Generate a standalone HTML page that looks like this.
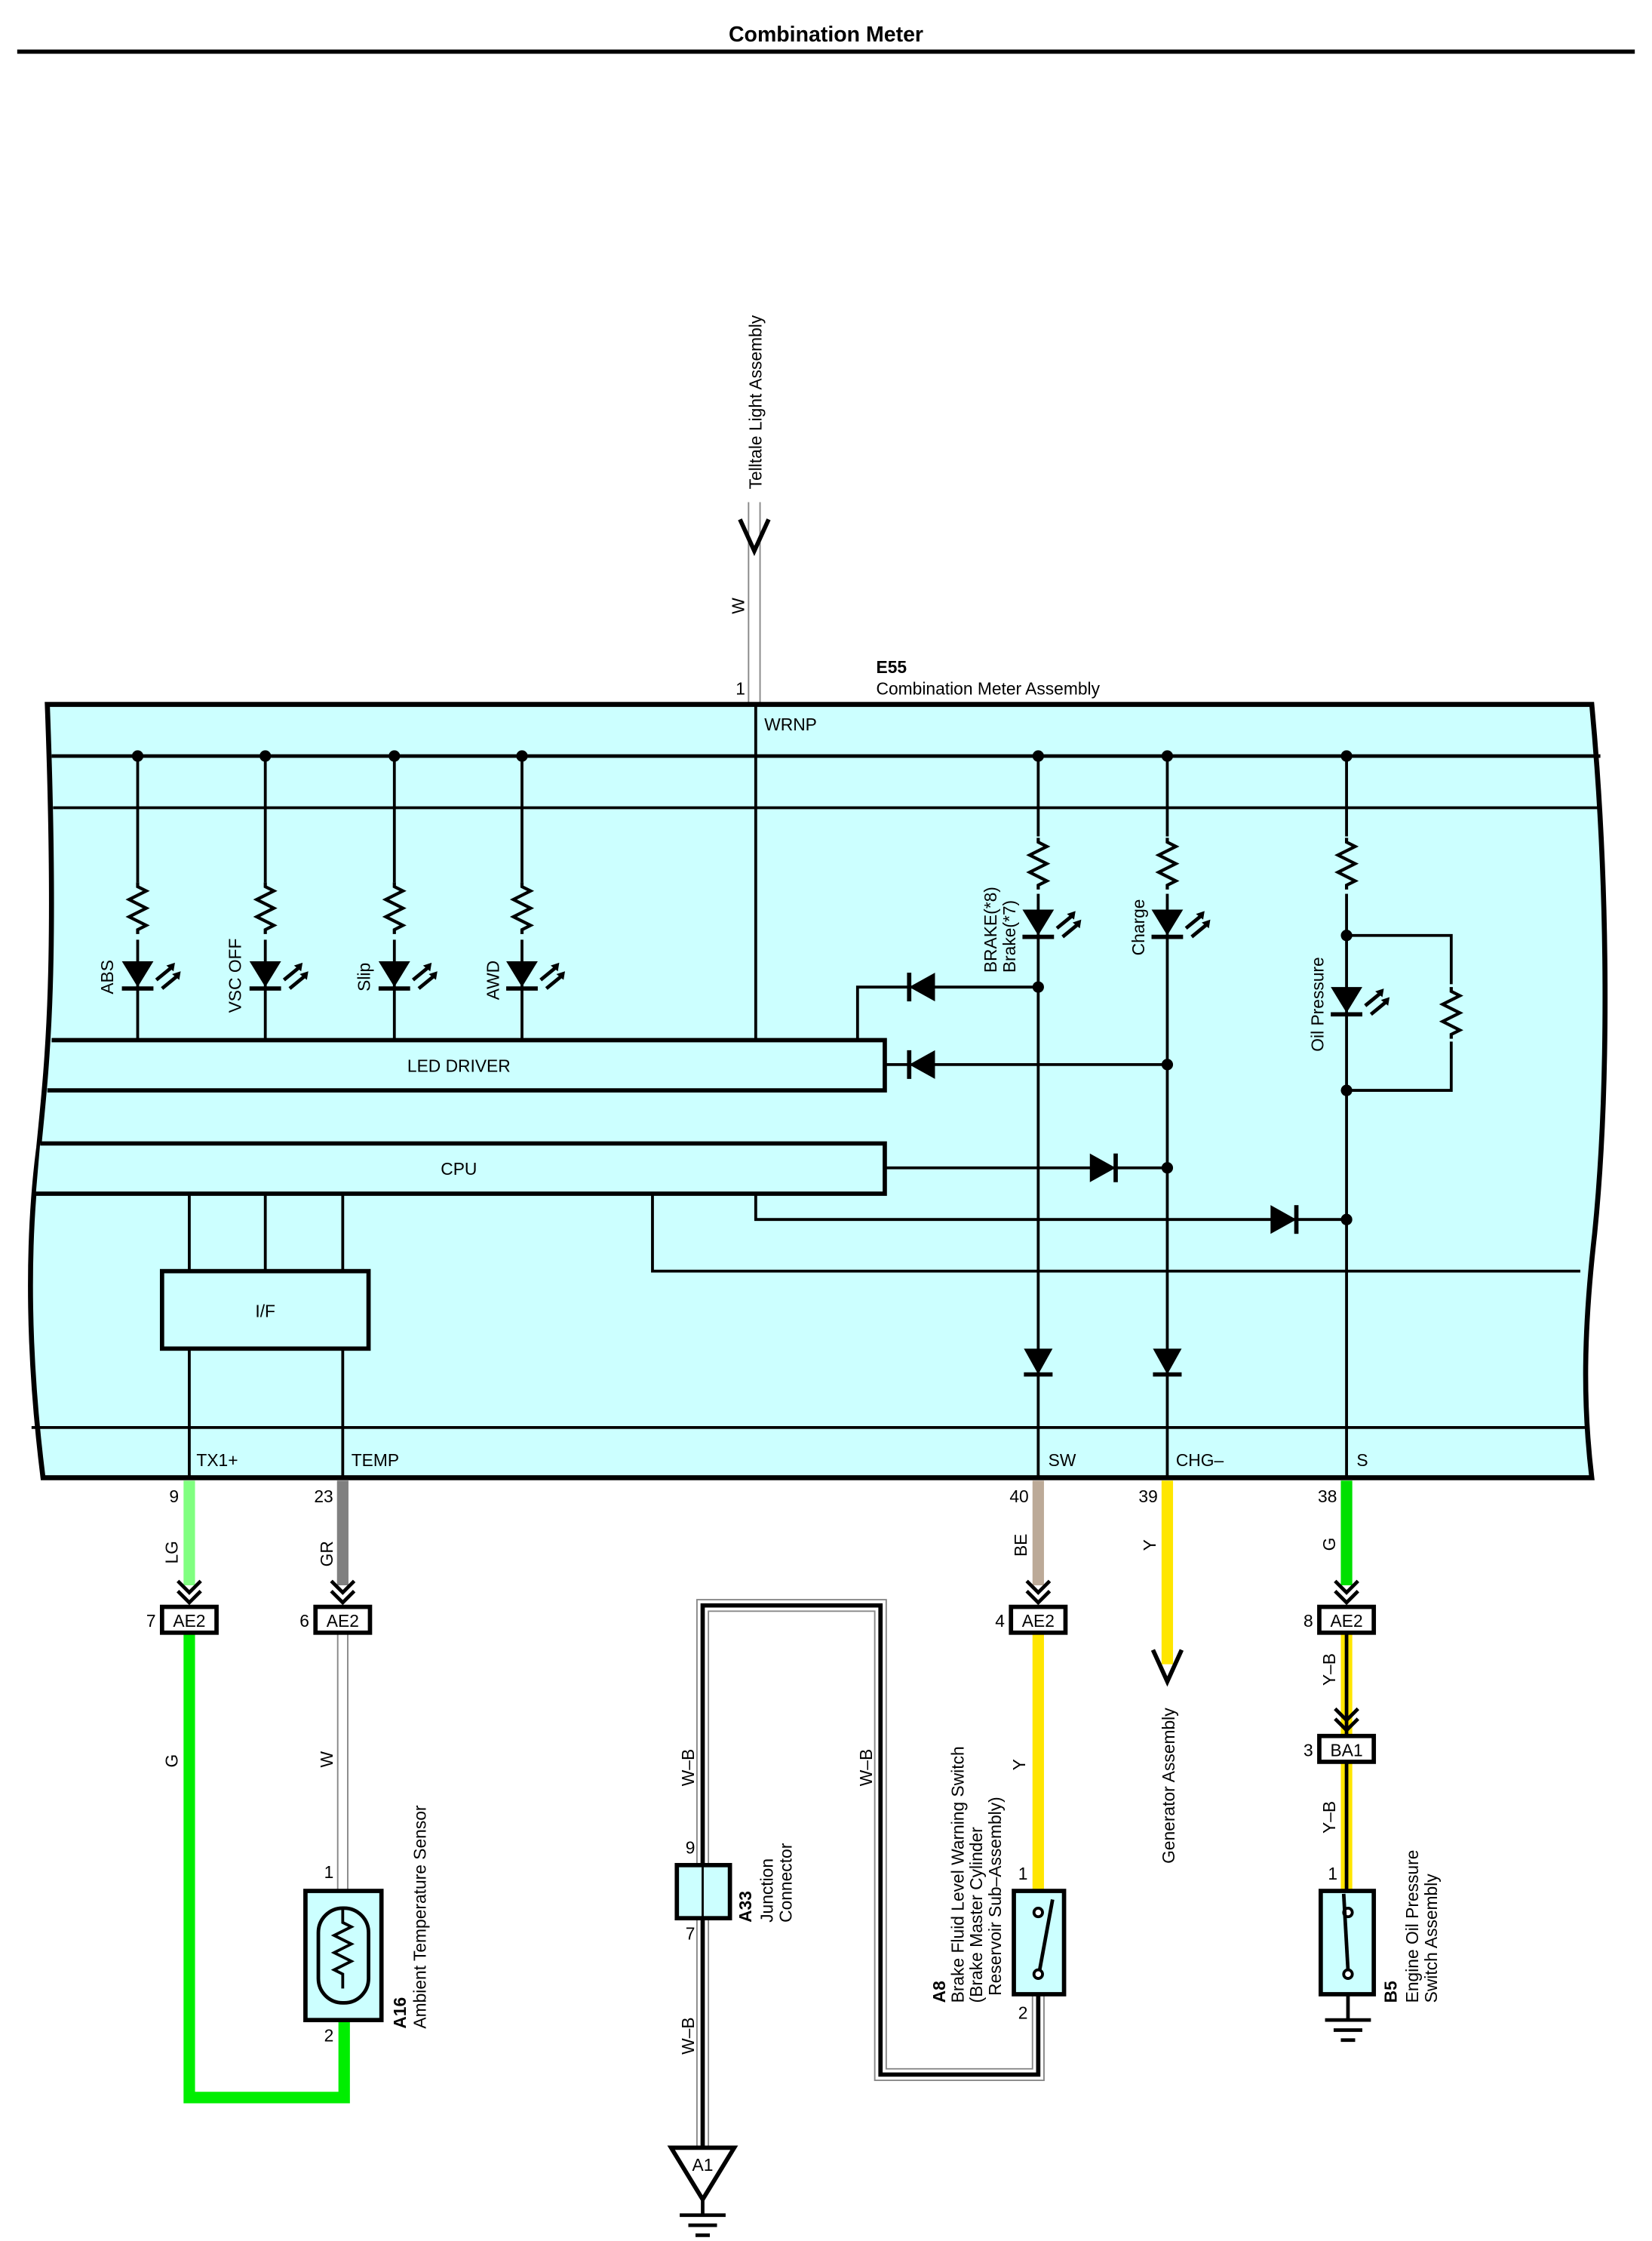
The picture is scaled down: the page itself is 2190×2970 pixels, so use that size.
<!DOCTYPE html>
<html><head><meta charset="utf-8"><style>
html,body{margin:0;padding:0;background:#fff}
svg{display:block}
text{font-family:"Liberation Sans",sans-serif;font-size:12px;fill:#000}
</style></head><body>
<svg width="2190" height="2970" viewBox="0 0 1152 1562" preserveAspectRatio="none" xmlns="http://www.w3.org/2000/svg">
<defs>
<g id="led"><polygon points="-11,0 11,0 0,18" fill="#000"/><line x1="-11" y1="19" x2="11" y2="19" stroke="#000" stroke-width="3"/>
<path d="M13,13 L24,4 M17,19 L28,10" stroke="#000" stroke-width="2.5" fill="none"/>
<polygon points="26,1 20,3 25,7" fill="#000"/><polygon points="30,7 24,9 29,13" fill="#000"/></g>
<path id="res" d="M0,0 l0,3 l6,3 l-12,6 l12,6 l-12,6 l12,6 l-6,3 l0,3" fill="none" stroke="#000" stroke-width="2.2"/>
<g id="dL"><polygon points="0,0 18,-10 18,10" fill="#000"/><line x1="0" y1="-10" x2="0" y2="10" stroke="#000" stroke-width="3"/></g>
<g id="dR"><polygon points="0,0 -18,-10 -18,10" fill="#000"/><line x1="0" y1="-10" x2="0" y2="10" stroke="#000" stroke-width="3"/></g>
<g id="dD"><polygon points="-10,0 10,0 0,18" fill="#000"/><line x1="-10" y1="18" x2="10" y2="18" stroke="#000" stroke-width="3"/></g>
<path id="chev" d="M-8,-14 L0,-6 L8,-14 M-8,-7 L0,1 L8,-7" fill="none" stroke="#000" stroke-width="2.5"/>
<g id="gnd"><line x1="-16" y1="0" x2="16" y2="0" stroke="#000" stroke-width="2.5"/><line x1="-10" y1="7" x2="10" y2="7" stroke="#000" stroke-width="2.5"/><line x1="-5" y1="14" x2="5" y2="14" stroke="#000" stroke-width="2.5"/></g>
</defs>

<text x="576" y="29" text-anchor="middle" style="font-weight:bold;font-size:15px">Combination Meter</text>
<line x1="12" y1="36" x2="1140" y2="36" stroke="#000" stroke-width="3"/>

<!-- Telltale wire -->
<text transform="translate(531,341) rotate(-90)">Telltale Light Assembly</text>
<line x1="526" y1="350" x2="526" y2="491" stroke="#888" stroke-width="9"/>
<line x1="526" y1="350" x2="526" y2="491" stroke="#fff" stroke-width="7"/>
<path d="M516,362 L526,384 L536,362" fill="none" stroke="#000" stroke-width="3"/>
<text transform="translate(519,428) rotate(-90)">W</text>
<text x="513" y="484">1</text>
<text x="611" y="469" style="font-weight:bold">E55</text>
<text x="611" y="484">Combination Meter Assembly</text>

<!-- Main box -->
<path d="M33,491 L1110,491 C1122,620 1122,760 1112,860 C1104,930 1104,980 1110,1030 L30,1030 C20,950 18,870 27,800 C33,740 40,680 33,491 Z" fill="#ccffff" stroke="#000" stroke-width="3.5"/>
<line x1="36" y1="527" x2="1116" y2="527" stroke="#000" stroke-width="2.5"/>
<line x1="37" y1="563" x2="1117" y2="563" stroke="#000" stroke-width="2"/>
<line x1="22" y1="995" x2="1106" y2="995" stroke="#000" stroke-width="2"/>

<!-- LEDs left -->
<g stroke="#000" stroke-width="2">
<line x1="96" y1="527" x2="96" y2="725"/><line x1="185" y1="527" x2="185" y2="725"/>
<line x1="275" y1="527" x2="275" y2="725"/><line x1="364" y1="527" x2="364" y2="725"/>
<line x1="527" y1="491" x2="527" y2="725"/>
</g>
<g fill="#000"><circle cx="96" cy="527" r="4"/><circle cx="185" cy="527" r="4"/><circle cx="275" cy="527" r="4"/><circle cx="364" cy="527" r="4"/></g>
<g fill="#ccffff">
<rect x="90" y="615" width="12" height="40"/><rect x="179" y="615" width="12" height="40"/><rect x="269" y="615" width="12" height="40"/><rect x="358" y="615" width="12" height="40"/>
</g>
<use href="#res" x="96" y="615"/><use href="#res" x="185" y="615"/><use href="#res" x="275" y="615"/><use href="#res" x="364" y="615"/>
<use href="#led" x="96" y="670"/><use href="#led" x="185" y="670"/><use href="#led" x="275" y="670"/><use href="#led" x="364" y="670"/>
<text transform="translate(79,693) rotate(-90)">ABS</text>
<text transform="translate(168,706) rotate(-90)">VSC OFF</text>
<text transform="translate(258,691) rotate(-90)">Slip</text>
<text transform="translate(348,697) rotate(-90)">AWD</text>
<text x="533" y="509">WRNP</text>

<!-- LED driver / CPU -->
<path d="M36,725 L617,725 L617,760 L33,760" fill="#ccffff" stroke="#000" stroke-width="3"/>
<text x="320" y="747" text-anchor="middle">LED DRIVER</text>
<path d="M28,797 L617,797 L617,832 L25,832" fill="#ccffff" stroke="#000" stroke-width="3"/>
<text x="320" y="819" text-anchor="middle">CPU</text>

<g stroke="#000" stroke-width="2" fill="none">
<line x1="132" y1="832" x2="132" y2="886"/><line x1="185" y1="832" x2="185" y2="886"/><line x1="239" y1="832" x2="239" y2="886"/>
<line x1="132" y1="940" x2="132" y2="1030"/><line x1="239" y1="940" x2="239" y2="1030"/>
<polyline points="455,832 455,886 1102,886"/>
<polyline points="527,832 527,850 939,850"/>
<line x1="617" y1="814" x2="814" y2="814"/>
<line x1="617" y1="742" x2="814" y2="742"/>
<polyline points="598,725 598,688 724,688"/>
<line x1="724" y1="527" x2="724" y2="1030"/>
<line x1="814" y1="527" x2="814" y2="1030"/>
<line x1="939" y1="527" x2="939" y2="1030"/>
<polyline points="939,652 1012,652 1012,760 939,760"/>
</g>
<rect x="113" y="886" width="144" height="54" fill="#ccffff" stroke="#000" stroke-width="3"/>
<text x="185" y="918" text-anchor="middle">I/F</text>

<g fill="#000"><circle cx="724" cy="527" r="4"/><circle cx="814" cy="527" r="4"/><circle cx="939" cy="527" r="4"/>
<circle cx="724" cy="688" r="4"/><circle cx="814" cy="742" r="4"/><circle cx="814" cy="814" r="4"/>
<circle cx="939" cy="652" r="4"/><circle cx="939" cy="760" r="4"/><circle cx="939" cy="850" r="4"/></g>
<g fill="#ccffff"><rect x="718" y="583" width="12" height="40"/><rect x="808" y="583" width="12" height="40"/><rect x="933" y="583" width="12" height="40"/><rect x="1006" y="686" width="12" height="40"/></g>
<use href="#res" x="724" y="584"/><use href="#res" x="814" y="584"/><use href="#res" x="939" y="584"/><use href="#res" x="1012" y="688"/>
<use href="#led" x="724" y="634"/><use href="#led" x="814" y="634"/><use href="#led" x="939" y="688"/>
<text transform="translate(695,678) rotate(-90)">BRAKE(*8)</text>
<text transform="translate(708,678) rotate(-90)">Brake(*7)</text>
<text transform="translate(798,666) rotate(-90)">Charge</text>
<text transform="translate(923,733) rotate(-90)">Oil Pressure</text>
<use href="#dL" x="634" y="688"/><use href="#dL" x="634" y="742"/>
<use href="#dR" x="778" y="814"/><use href="#dR" x="904" y="850"/>
<use href="#dD" x="724" y="940"/><use href="#dD" x="814" y="940"/>

<text x="137" y="1022">TX1+</text><text x="245" y="1022">TEMP</text><text x="731" y="1022">SW</text><text x="820" y="1022">CHG–</text><text x="946" y="1022">S</text>

<!-- Pin numbers -->
<text x="118" y="1047">9</text><text x="219" y="1047">23</text><text x="704" y="1047">40</text><text x="794" y="1047">39</text><text x="919" y="1047">38</text>

<!-- wires below -->
<line x1="132" y1="1032" x2="132" y2="1105" stroke="#80ff80" stroke-width="8"/>
<line x1="239" y1="1032" x2="239" y2="1105" stroke="#808080" stroke-width="8"/>
<line x1="724" y1="1032" x2="724" y2="1105" stroke="#bcaa98" stroke-width="8"/>
<line x1="814" y1="1032" x2="814" y2="1160" stroke="#ffe600" stroke-width="8"/>
<line x1="939" y1="1032" x2="939" y2="1105" stroke="#00e000" stroke-width="8"/>
<path d="M804,1150 L814,1172 L824,1150" fill="none" stroke="#000" stroke-width="3"/>
<use href="#chev" x="132" y="1116"/><use href="#chev" x="239" y="1116"/><use href="#chev" x="724" y="1116"/><use href="#chev" x="939" y="1116"/>
<text transform="translate(124,1090) rotate(-90)">LG</text>
<text transform="translate(232,1092) rotate(-90)">GR</text>
<text transform="translate(716,1085) rotate(-90)">BE</text>
<text transform="translate(806,1081) rotate(-90)">Y</text>
<text transform="translate(931,1081) rotate(-90)">G</text>

<!-- green loop -->
<polyline points="132,1138 132,1462 240,1462 240,1408" fill="none" stroke="#00ee00" stroke-width="8"/>
<text transform="translate(124,1232) rotate(-90)">G</text>
<!-- W to sensor -->
<line x1="239" y1="1138" x2="239" y2="1318" stroke="#888" stroke-width="8"/>
<line x1="239" y1="1138" x2="239" y2="1318" stroke="#fff" stroke-width="6"/>
<text transform="translate(232,1232) rotate(-90)">W</text>
<text x="226" y="1309">1</text><text x="226" y="1423">2</text>
<rect x="213" y="1318" width="53" height="90" fill="#ccffff" stroke="#000" stroke-width="3"/>
<rect x="222" y="1330" width="35" height="66" rx="17" fill="none" stroke="#000" stroke-width="2.5"/>
<path d="M239,1330 l0,10 l6,3 l-12,6 l12,6 l-12,6 l12,6 l-12,6 l6,3 l0,10" fill="none" stroke="#000" stroke-width="2"/>
<text transform="translate(283,1414) rotate(-90)" style="font-weight:bold">A16</text>
<text transform="translate(297,1414) rotate(-90)">Ambient Temperature Sensor</text>

<!-- Brake switch wire -->
<line x1="724" y1="1138" x2="724" y2="1318" stroke="#ffe600" stroke-width="8"/>
<text transform="translate(715,1234) rotate(-90)">Y</text>
<text x="710" y="1310">1</text><text x="710" y="1407">2</text>
<polyline points="724,1390 724,1446 614,1446 614,1119 490,1119 490,1498" fill="none" stroke="#888" stroke-width="9"/>
<polyline points="724,1390 724,1446 614,1446 614,1119 490,1119 490,1498" fill="none" stroke="#fff" stroke-width="7"/>
<polyline points="724,1390 724,1446 614,1446 614,1119 490,1119 490,1498" fill="none" stroke="#000" stroke-width="3"/>
<rect x="707" y="1318" width="35" height="72" fill="#ccffff" stroke="#000" stroke-width="3"/>
<circle cx="724" cy="1333" r="3" fill="#fff" stroke="#000" stroke-width="2"/>
<circle cx="724" cy="1376" r="3" fill="#fff" stroke="#000" stroke-width="2"/>
<line x1="725" y1="1373" x2="734" y2="1324" stroke="#000" stroke-width="2.5"/>
<text transform="translate(659,1396) rotate(-90)" style="font-weight:bold">A8</text>
<text transform="translate(672,1396) rotate(-90)">Brake Fluid Level Warning Switch</text>
<text transform="translate(685,1396) rotate(-90)">(Brake Master Cylinder</text>
<text transform="translate(698,1391) rotate(-90)">Reservoir Sub–Assembly)</text>
<text transform="translate(608,1245) rotate(-90)">W–B</text>
<text transform="translate(484,1245) rotate(-90)">W–B</text>
<text transform="translate(484,1432) rotate(-90)">W–B</text>

<!-- A33 -->
<rect x="472" y="1300" width="37" height="37" fill="#ccffff" stroke="#000" stroke-width="3"/>
<line x1="490" y1="1300" x2="490" y2="1337" stroke="#000" stroke-width="1.5"/>
<text x="478" y="1292">9</text><text x="478" y="1352">7</text>
<text transform="translate(524,1340) rotate(-90)" style="font-weight:bold">A33</text>
<text transform="translate(539,1340) rotate(-90)">Junction</text>
<text transform="translate(552,1340) rotate(-90)">Connector</text>
<!-- A1 -->
<polygon points="468,1497 512,1497 490,1533" fill="#fff" stroke="#000" stroke-width="3"/>
<text x="490" y="1513" text-anchor="middle">A1</text>
<line x1="490" y1="1533" x2="490" y2="1544" stroke="#000" stroke-width="2.5"/>
<use href="#gnd" x="490" y="1544"/>

<!-- Generator -->
<text transform="translate(819,1299) rotate(-90)">Generator Assembly</text>

<!-- Oil switch -->
<line x1="939" y1="1138" x2="939" y2="1210" stroke="#ffe600" stroke-width="8"/>
<line x1="939" y1="1138" x2="939" y2="1210" stroke="#000" stroke-width="2.5"/>
<use href="#chev" x="939" y="1205"/>
<line x1="939" y1="1228" x2="939" y2="1318" stroke="#ffe600" stroke-width="8"/>
<line x1="939" y1="1228" x2="939" y2="1318" stroke="#000" stroke-width="2.5"/>
<text transform="translate(931,1175) rotate(-90)">Y–B</text>
<text transform="translate(931,1278) rotate(-90)">Y–B</text>
<text x="926" y="1310">1</text>
<rect x="921" y="1318" width="37" height="72" fill="#ccffff" stroke="#000" stroke-width="3"/>
<circle cx="940" cy="1333" r="3" fill="#fff" stroke="#000" stroke-width="2"/>
<circle cx="940" cy="1376" r="3" fill="#fff" stroke="#000" stroke-width="2"/>
<line x1="940" y1="1373" x2="937" y2="1320" stroke="#000" stroke-width="2.5"/>
<line x1="940" y1="1390" x2="940" y2="1408" stroke="#000" stroke-width="2.5"/>
<use href="#gnd" x="940" y="1408"/>
<text transform="translate(974,1396) rotate(-90)" style="font-weight:bold">B5</text>
<text transform="translate(989,1396) rotate(-90)">Engine Oil Pressure</text>
<text transform="translate(1002,1396) rotate(-90)">Switch Assembly</text>

<!-- connector boxes -->
<g fill="#fff" stroke="#000" stroke-width="3">
<rect x="113" y="1120" width="38" height="18"/><rect x="220" y="1120" width="38" height="18"/>
<rect x="705" y="1120" width="38" height="18"/><rect x="920" y="1120" width="38" height="18"/>
<rect x="920" y="1210" width="38" height="18"/>
</g>
<g text-anchor="middle">
<text x="132" y="1134">AE2</text><text x="239" y="1134">AE2</text><text x="724" y="1134">AE2</text><text x="939" y="1134">AE2</text><text x="939" y="1224">BA1</text>
</g>
<text x="102" y="1134">7</text><text x="209" y="1134">6</text><text x="694" y="1134">4</text><text x="909" y="1134">8</text><text x="909" y="1224">3</text>
</svg>
</body></html>
